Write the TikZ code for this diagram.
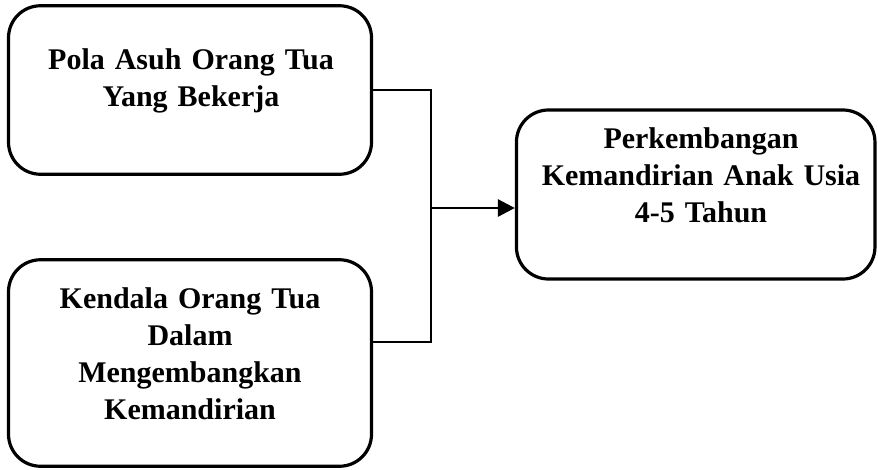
\documentclass[tikz,border=0pt]{standalone}
\usepackage{fontspec}
\setmainfont{Liberation Serif}
\newfontfamily\lblfont[WordSpace=0.6]{Liberation Serif}
\usetikzlibrary{arrows.meta}
\begin{document}
\begin{tikzpicture}[x=1pt,y=-1pt,
  box/.style={draw, line width=3.2pt, rounded corners=32pt, inner sep=0pt},
  lbl/.style={anchor=base, text width=360pt, inner sep=0pt,
    font=\lblfont\fontsize{30}{37}\selectfont\bfseries},
  conn/.style={line width=2.8pt}]
\useasboundingbox (0,0) rectangle (878,469);
\node[box, minimum width=363pt, minimum height=168.5pt] (b1) at (190,90) {};
\node[box, minimum width=363pt, minimum height=206.5pt] (b2) at (190,363) {};
\node[box, minimum width=358.5pt, minimum height=169pt] (b3) at (695.7,194.5) {};
\node[lbl] (t1) at (191,69) {\centering Pola Asuh Orang Tua\\Yang Bekerja\par};
\node[lbl] (t2) at (190,308) {\centering Kendala Orang Tua\\Dalam\\Mengembangkan\\Kemandirian\par};
\node[lbl] (t3) at (701,148) {\centering Perkembangan\\Kemandirian Anak Usia\\4-5 Tahun\par};
\coordinate (jt) at (431,90);
\coordinate (jb) at (431,342);
\coordinate (ja) at (431,208);
\draw[conn] (b1.east) -- (jt) -- (jb) -- (b2.east |- jb);
\draw[conn, -{Triangle[length=17pt,width=17pt]}] (ja) -- (b3.west |- ja);
\end{tikzpicture}
\end{document}
